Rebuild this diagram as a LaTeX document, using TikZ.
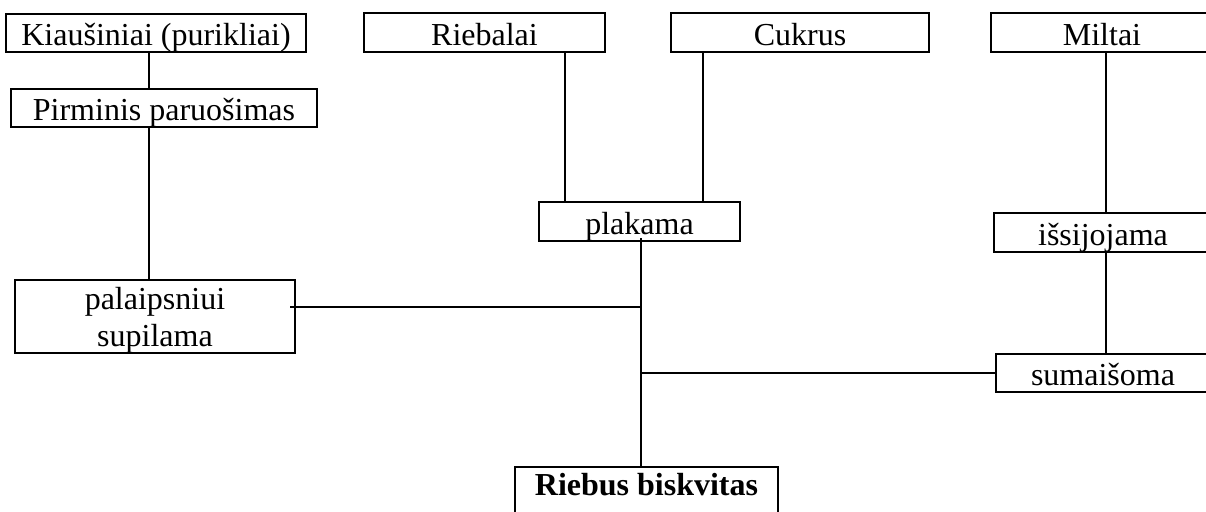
\documentclass[tikz,border=0pt]{standalone}
\usepackage{fontspec}
\setmainfont{Liberation Serif}
\begin{document}
\begin{tikzpicture}[x=0.75pt,y=-0.75pt,
  box/.style={draw, line width=1.5pt, inner sep=0pt, align=center,
    font=\fontsize{24}{28.1}\selectfont, text height=23.25pt, text depth=4.5pt},
  boxw/.style={minimum width=#1*0.75pt},
  boxh/.style={minimum height=#1*0.75pt},
  link/.style={line width=1.5pt}]
\useasboundingbox (0,0) rectangle (1206,511);

% ingredients and processing steps
\node[box, boxw=300, boxh=38] (k) at (156,33) {Kiaušiniai (purikliai)};
\node[box, boxw=306, boxh=38] (pp) at (164,108) {Pirminis paruošimas};
\node[box, boxw=241, boxh=39] (rb) at (484.5,32.5) {Riebalai};
\node[box, boxw=258, boxh=39] (cu) at (800,32.5) {Cukrus};
\node[box, boxw=222, boxh=39] (mi) at (1102,32.5) {Miltai};
\node[box, boxw=201, boxh=39] (plak) at (639.5,221.5) {plakama};
\node[box, boxw=218, boxh=39] (is) at (1103,232.5) {išsijojama};
\node[box, boxw=280, boxh=73, text height=49.5pt, text depth=4.5pt] (pal) at (155,316.5) {palaipsniui\\supilama};
\node[box, boxw=214, boxh=38] (su) at (1103,373) {sumaišoma};
\node[box, boxw=263, boxh=60, text height=20.25pt, text depth=22.5pt,
      font=\fontsize{24}{28.1}\selectfont\bfseries] (rbk) at (646.5,497) {Riebus biskvitas};

% x positions of the vertical links, y of the side branch
\coordinate (xa) at (149,0);
\coordinate (xr) at (565,0);
\coordinate (xc) at (703,0);
\coordinate (xt) at (641,0);
\coordinate (xm) at (1106,0);
\coordinate (ya) at (0,307);

\draw[link] (xa |- k.south) -- (xa |- pp.north);
\draw[link] (xa |- pp.south) -- (xa |- pal.north);
\draw[link] (xr |- rb.south) -- (xr |- plak.north);
\draw[link] (xc |- cu.south) -- (xc |- plak.north);
\draw[link] (xm |- mi.south) -- (xm |- is.north);
\draw[link] (xm |- is.south) -- (xm |- su.north);
\draw[link, shorten <=-3pt] (xt |- plak.south) -- (xt |- rbk.north);
\draw[link, shorten <=-4.5pt] (pal.east |- ya) -- (xt |- ya);
\draw[link] (xt |- su.west) -- (su.west);
\end{tikzpicture}
\end{document}
